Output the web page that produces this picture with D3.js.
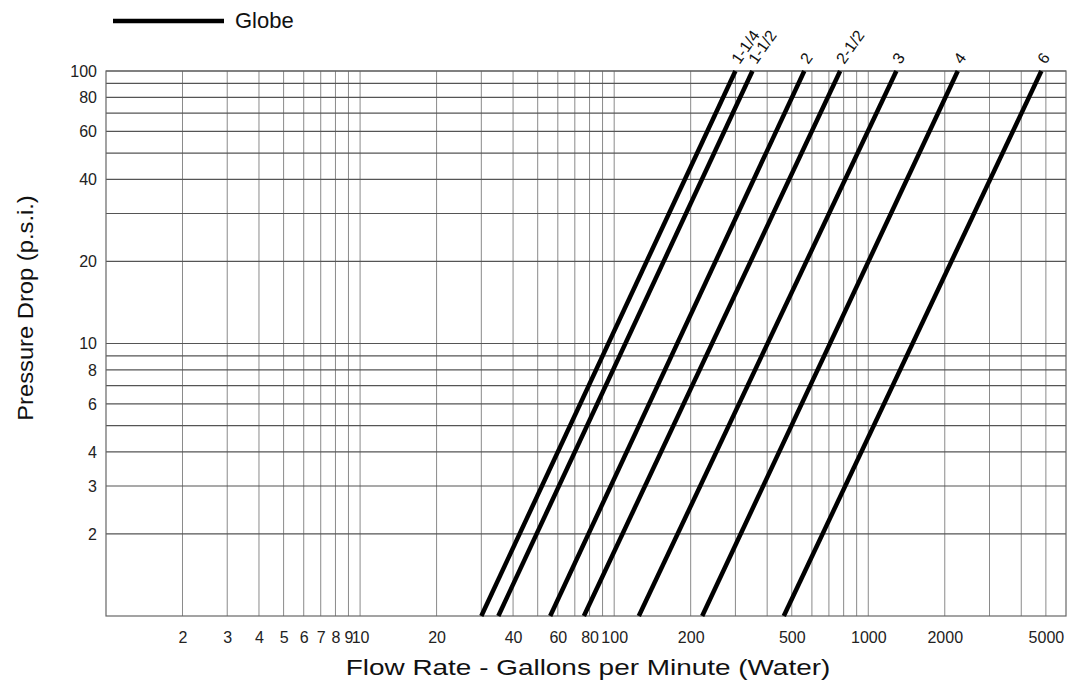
<!DOCTYPE html>
<html>
<head>
<meta charset="utf-8">
<script src="https://cdn.jsdelivr.net/npm/d3@7"></script>
<style>
  body { margin: 0; background: #fff; }
  svg { font-family: "Liberation Sans", Arial, sans-serif; }
</style>
</head>
<body>
<svg id="chart" width="1073" height="685"></svg>
<script>
// valve sizes and flow (gpm) where each line crosses 1 psi and 100 psi
const sizes = ["1-1/4", "1-1/2", "2", "2-1/2", "3", "4", "6"];
const flowAt1psi = [30, 35, 56, 76, 125, 222, 465];
const flowAt100psi = [300, 350, 560, 775, 1290, 2250, 4800];
const pressureEnds = [1, 100];

// grid and tick values
const xGridValues = [2, 3, 4, 5, 6, 7, 8, 9, 10, 20, 30, 40, 50, 60, 70, 80, 90, 100,
    200, 300, 400, 500, 600, 700, 800, 900, 1000, 2000, 3000, 4000, 5000];
const yGridValues = [2, 3, 4, 5, 6, 7, 8, 9, 10, 20, 30, 40, 50, 60, 70, 80, 90, 100];
const xTickValues = [2, 3, 4, 5, 6, 7, 8, 9, 10, 20, 40, 60, 80, 100, 200, 500, 1000, 2000, 5000];
const yTickValues = [2, 3, 4, 6, 8, 10, 20, 40, 60, 80, 100];

const svg = d3.select("#chart");
const plot = { left: 106, right: 1066, top: 71, bottom: 616 };

const x = d3.scaleLog().domain([1, 6000]).range([plot.left, plot.right]);
const y = d3.scaleLog().domain([1, 100]).range([plot.bottom, plot.top]);

// grid
const grid = svg.append("g");
grid.selectAll(".vline")
    .data(xGridValues)
    .enter()
    .append("line")
    .attr("x1", d => x(d))
    .attr("x2", d => x(d))
    .attr("y1", plot.top)
    .attr("y2", plot.bottom)
    .attr("stroke", "#8a8a8a")
    .attr("stroke-width", 1);

grid.selectAll(".hline")
    .data(yGridValues)
    .enter()
    .append("line")
    .attr("x1", plot.left)
    .attr("x2", plot.right)
    .attr("y1", d => y(d))
    .attr("y2", d => y(d))
    .attr("stroke", "#555")
    .attr("stroke-width", 1.2);

// frame
svg.append("rect")
    .attr("x", plot.left)
    .attr("y", plot.top)
    .attr("width", plot.right - plot.left)
    .attr("height", plot.bottom - plot.top)
    .attr("fill", "none")
    .attr("stroke", "#666")
    .attr("stroke-width", 1.2);

// axes (labels only)
const xAxis = svg.append("g")
    .attr("transform", `translate(0, ${plot.bottom + 13})`)
    .call(d3.axisBottom(x).tickValues(xTickValues).tickSize(0).tickFormat(d3.format("d")));
xAxis.select(".domain").remove();
xAxis.selectAll("text")
    .attr("font-size", 16)
    .attr("fill", "#222")
    .style("font-family", "'Liberation Sans', Arial, sans-serif");

const yAxis = svg.append("g")
    .attr("transform", `translate(${plot.left - 6}, 0)`)
    .call(d3.axisLeft(y).tickValues(yTickValues).tickSize(0).tickFormat(d3.format("d")));
yAxis.select(".domain").remove();
yAxis.selectAll("text")
    .attr("font-size", 16)
    .attr("fill", "#222")
    .style("font-family", "'Liberation Sans', Arial, sans-serif");

// valve lines
const line = d3.line()
    .x(d => x(d.q))
    .y(d => y(d.p));

const series = sizes.map((s, i) => ({
    size: s,
    values: [
        { q: flowAt1psi[i], p: pressureEnds[0] },
        { q: flowAt100psi[i], p: pressureEnds[1] }
    ]
}));

svg.append("g")
    .selectAll("path")
    .data(series)
    .enter()
    .append("path")
    .attr("d", d => line(d.values))
    .attr("fill", "none")
    .attr("stroke", "#000")
    .attr("stroke-width", 4.5);

// size labels above the top ends
svg.append("g")
    .selectAll("text")
    .data(series)
    .enter()
    .append("text")
    .attr("transform", d => `translate(${x(d.values[1].q) + 4}, ${plot.top - 6}) rotate(-55)`)
    .attr("font-size", 16)
    .attr("fill", "#111")
    .text(d => d.size);

// legend
svg.append("line")
    .attr("x1", 113)
    .attr("x2", 224)
    .attr("y1", 21)
    .attr("y2", 21)
    .attr("stroke", "#000")
    .attr("stroke-width", 4.5);
svg.append("text")
    .attr("x", 235)
    .attr("y", 28)
    .attr("font-size", 22)
    .attr("fill", "#111")
    .text("Globe");

// axis titles (scanned original is a little stretched sideways)
svg.append("text")
    .attr("transform", "translate(588, 675) scale(1.27, 1)")
    .attr("text-anchor", "middle")
    .attr("font-size", 22)
    .attr("fill", "#111")
    .text("Flow Rate - Gallons per Minute (Water)");

svg.append("text")
    .attr("transform", "translate(33, 308) rotate(-90) scale(1.08, 1)")
    .attr("text-anchor", "middle")
    .attr("font-size", 22)
    .attr("fill", "#111")
    .text("Pressure Drop (p.s.i.)");
</script>
</body>
</html>
